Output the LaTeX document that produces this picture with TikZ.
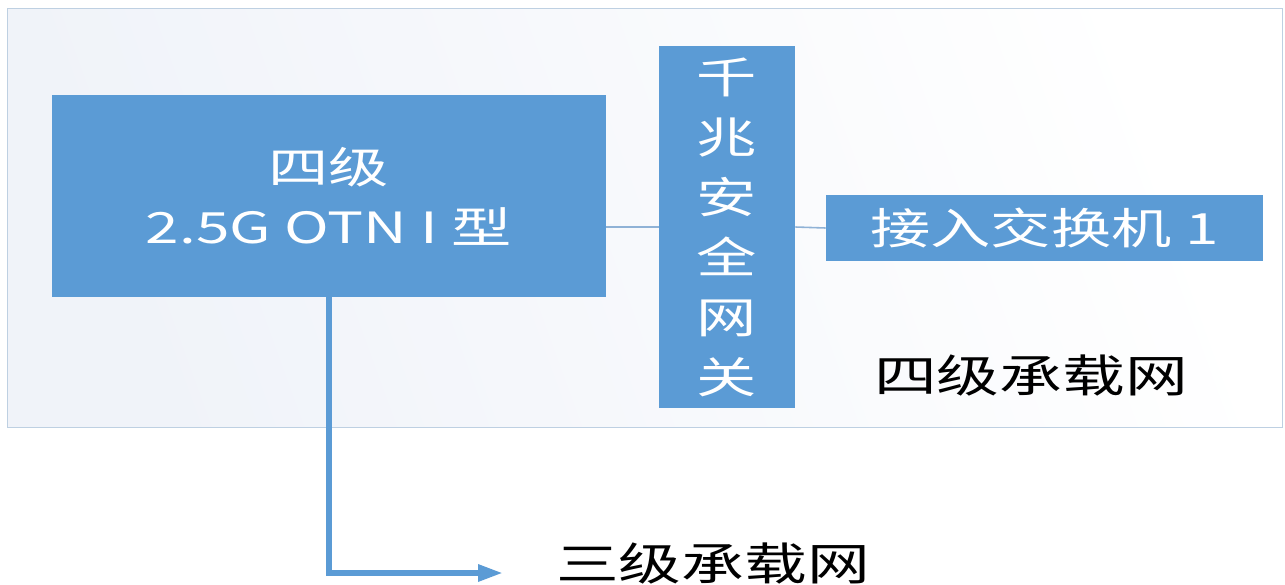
\documentclass[tikz,border=0pt]{standalone}
\usepackage{fontspec}
\usetikzlibrary{arrows.meta}
\newfontfamily\cjk[FakeStretch=1.4]{Noto Sans CJK SC}
\definecolor{boxblue}{RGB}{91,155,213}
\definecolor{framecol}{RGB}{190,208,226}
\definecolor{bgtl}{RGB}{240,243,249}
\definecolor{connblue}{RGB}{143,178,214}
\tikzset{
  bluebox/.style={fill=boxblue, draw=none, inner sep=0pt, text=white, align=center},
  boxfont/.style={font=\cjk\fontsize{24.5pt}{34.14pt}\selectfont},
  labelfont/.style={font=\cjk\fontsize{25.5pt}{30pt}\selectfont, text=black, inner sep=0pt},
  conn/.style={draw=connblue, line width=0.9pt},
  arr/.style={draw=boxblue, line width=3.3pt, -{Triangle[length=0.5cm, width=0.32cm]}}
}
\begin{document}
\begin{tikzpicture}[x=0.02cm, y=-0.02cm]
\useasboundingbox (0,0) rectangle (1285,585);
\fill[white] (0,0) rectangle (1285,585);
% outer frame
\node[draw=framecol, line width=0.6pt, left color=bgtl, right color=white, shading angle=110,
      minimum width=25.52cm, minimum height=8.4cm, inner sep=0pt] (frame) at (645,218) {};
% boxes
\node[bluebox, boxfont, minimum width=11.08cm, minimum height=4.04cm] (A) at (329,196) {四级\\2.5G OTN I 型};
\node[bluebox, boxfont, minimum width=2.72cm, minimum height=7.24cm] (B) at (727,227) {千\\兆\\安\\全\\网\\关};
\node[bluebox, boxfont, minimum width=8.74cm, minimum height=1.32cm] (C) at (1044.5,228) {接入交换机 1};
% labels
\node[labelfont] (L4) at (1031,375) {四级承载网};
\node[labelfont] (L3) at (713,563) {三级承载网};
% connectors
\draw[conn] (B.west -| A.east) -- (B.west);
\draw[conn] (B.east) -- (C.west);
\coordinate (tip) at (503,573);
\draw[arr] (A.south) |- (tip);
\end{tikzpicture}
\end{document}
